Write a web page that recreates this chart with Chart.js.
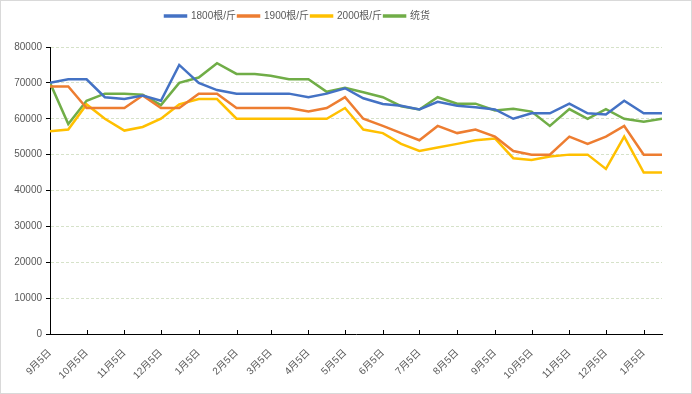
<!DOCTYPE html>
<html>
<head>
<meta charset="utf-8">
<script src="https://cdn.jsdelivr.net/npm/chart.js@4/dist/chart.umd.min.js"></script>
<style>
  body { margin: 0; background: #fff; }
  #wrap { width: 692px; height: 394px; box-sizing: border-box; border: 1px solid #d9d9d9; }
  canvas { display: block; }
</style>
</head>
<body>
<div id="wrap"><canvas id="myChart" width="690" height="392"></canvas></div>
<script>
// dates of the samples (5th and 20th of each month)
const dates = ['2018-09-05','2018-09-20','2018-10-05','2018-10-20','2018-11-05','2018-11-20',
  '2018-12-05','2018-12-20','2019-01-05','2019-01-20','2019-02-05','2019-02-20','2019-03-05',
  '2019-03-20','2019-04-05','2019-04-20','2019-05-05','2019-05-20','2019-06-05','2019-06-20',
  '2019-07-05','2019-07-20','2019-08-05','2019-08-20','2019-09-05','2019-09-20','2019-10-05',
  '2019-10-20','2019-11-05','2019-11-20','2019-12-05','2019-12-20','2020-01-05','2020-01-20']

const s1800 = [70000,71000,71000,66000,65500,66500,65000,75000,70000,68000,67000,67000,67000,
  67000,66000,67000,68500,65700,64100,63600,62600,64700,63600,63200,62600,60000,61500,
  61500,64200,61500,61200,65000,61500,61500]
const s1900 = [69000,69000,63000,63000,63000,66500,63000,63000,67000,67000,63000,63000,63000,
  63000,62000,63000,66000,60000,58000,56000,54000,58000,56000,57000,55000,51000,50000,
  50000,55000,53000,55000,58000,50000,50000]
const s2000 = [56500,57000,64000,60000,56700,57700,60000,64000,65500,65500,60000,60000,60000,
  60000,60000,60000,63000,57000,56000,53000,51000,52000,53000,54000,54500,49000,48500,
  49500,50000,50000,46000,55000,45000,45000]
const sTong = [70000,58500,65000,67000,67000,66700,63800,70000,71500,75500,72500,72500,72000,
  71000,71000,67500,68600,67400,66000,63500,62600,66000,64200,64200,62300,62800,62000,
  58000,62700,60000,62700,60000,59200,60000]

const seriesNames = ['1800根/斤', '1900根/斤', '2000根/斤', '统货']
const seriesColors = ['#4472C4', '#ED7D31', '#FFC000', '#70AD47']
const yTicks = [0,10000,20000,30000,40000,50000,60000,70000,80000]

const DAY = 86400000
const t0 = Date.parse(dates[0])
const dayNum = d => Math.round((Date.parse(d) - t0) / DAY)
const tickDates = dates.filter(d => d.endsWith('-05'))
const tickLabel = d => parseInt(d.slice(5, 7)) + '月' + parseInt(d.slice(8)) + '日'

const gray = '#595959'
const fontFam = "'Liberation Sans Narrow', 'Liberation Sans', 'Noto Sans CJK SC', sans-serif"

const innerTicks = {
  id: 'innerTicks',
  afterLayout(chart) {
    chart.legend.left = 162
  },
  afterDraw(chart) {
    const x = chart.scales.x, ctx = chart.ctx
    ctx.save()
    ctx.strokeStyle = '#000'
    ctx.lineWidth = 1
    ctx.beginPath()
    x.ticks.forEach(t => {
      const px = Math.round(x.getPixelForValue(t.value)) + 0.5
      ctx.moveTo(px, x.top)
      ctx.lineTo(px, x.top - 4)
    })
    ctx.stroke()
    ctx.restore()
  }
}

const legendHeight = {
  id: 'legendHeight',
  beforeInit(chart) {
    const fit = chart.legend.fit
    chart.legend.fit = function () {
      fit.call(this)
      this.height = 38
    }
  }
}

const allSeries = [s1800, s1900, s2000, sTong]

new Chart(document.getElementById('myChart'), {
  type: 'line',
  data: {
    datasets: allSeries.map((arr, k) => ({
      label: seriesNames[k],
      data: dates.map((d, i) => ({ x: dayNum(d), y: arr[i] })),
      borderColor: seriesColors[k],
      backgroundColor: seriesColors[k],
      borderWidth: 2.5,
      pointRadius: 0,
      tension: 0
    }))
  },
  options: {
    responsive: false,
    animation: false,
    layout: { padding: { top: 8, right: 29, bottom: 0, left: 0 } },
    plugins: {
      tooltip: { enabled: false },
      legend: {
        position: 'top',
        align: 'start',
        labels: {
          boxWidth: 21,
          boxHeight: 1,
          padding: 2,
          color: gray,
          font: { size: 10, family: fontFam }
        }
      }
    },
    scales: {
      x: {
        type: 'linear',
        min: 0,
        max: dayNum(dates[dates.length - 1]),
        afterBuildTicks: s => { s.ticks = tickDates.map(d => ({ value: dayNum(d) })) },
        afterFit: s => { s.height = 59 },
        grid: { display: true, drawOnChartArea: false, drawTicks: false },
        border: { color: '#000', width: 1 },
        ticks: {
          autoSkip: false,
          maxRotation: 45,
          minRotation: 45,
          padding: 13,
          color: gray,
          font: { size: 10, family: fontFam },
          callback: (v, i) => tickLabel(tickDates[i])
        }
      },
      y: {
        min: 0,
        max: 80000,
        afterBuildTicks: s => { s.ticks = yTicks.map(v => ({ value: v })) },
        afterFit: s => { s.width = 49 },
        grid: {
          color: c => (c.tick && c.tick.value === 0) ? 'rgba(0,0,0,0)' : '#d6e2c9',
          tickColor: '#000',
          tickLength: 4,
          tickBorderDash: []
        },
        border: { color: '#000', width: 1, dash: [3, 2] },
        ticks: {
          padding: 4,
          color: gray,
          font: { size: 10, family: fontFam },
          callback: v => String(v)
        }
      }
    }
  },
  plugins: [innerTicks, legendHeight]
})
</script>
</body>
</html>
